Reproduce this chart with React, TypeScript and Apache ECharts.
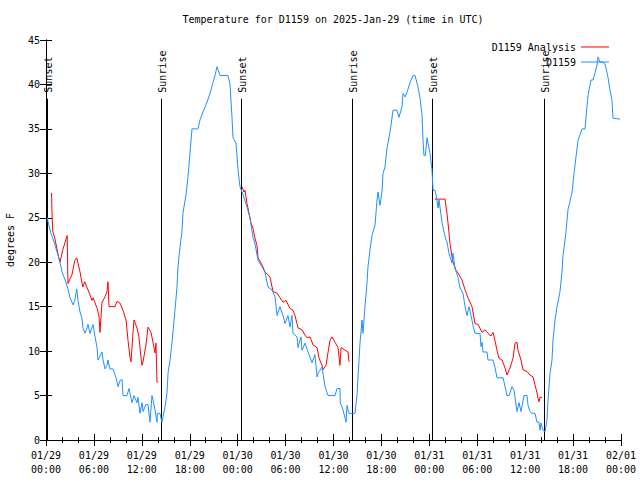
import React, { useEffect, useRef } from "react";
import * as echarts from "echarts";

// hours since 01/29 00:00 UTC, temperature in °F
const stationSeries: [number, number][] = [
  [0.15, 25], [0.35, 24.2], [0.6, 23.3], [0.8, 22.8], [1.0, 22.3], [1.2, 21.7], [1.4, 21.1], [1.6, 20.5],
  [1.75, 20], [2.04, 18.8], [2.4, 18], [2.75, 17], [3.0, 16], [3.4, 15.2], [3.6, 15.7], [3.85, 17],
  [4.0, 15.7], [4.26, 14.4], [4.5, 13.7], [4.63, 12.6], [4.88, 12], [5.13, 12.6], [5.26, 13], [5.51, 12],
  [5.89, 13], [6.14, 11.6], [6.39, 10.4], [6.51, 9], [7.01, 9.9], [7.14, 9], [7.39, 8], [7.64, 8.4],
  [7.76, 9], [8.01, 8], [8.39, 8], [8.77, 7], [9.02, 6], [9.27, 6.7], [9.52, 6.8], [9.64, 5],
  [10.14, 5], [10.39, 5.8], [10.77, 4.2], [11.02, 5], [11.39, 4.2], [11.52, 4.8], [11.77, 3], [12.02, 4.2],
  [12.15, 3.2], [12.52, 4], [12.77, 4], [13.02, 2], [13.27, 5], [13.4, 4.5], [13.65, 3.4], [13.9, 2],
  [13.95, 3], [14.27, 3], [14.52, 2], [14.65, 2.6], [14.9, 3.7], [15.15, 5.3], [15.28, 7.5], [15.53, 9],
  [15.78, 11], [16.15, 14.6], [16.4, 17.2], [16.53, 19.5], [16.78, 21.7], [17.03, 23.5], [17.15, 25.5], [17.53, 27.6],
  [17.78, 29.6], [18.03, 32.3], [18.28, 35], [19.03, 35], [19.28, 36], [19.66, 36.9], [20.16, 38], [20.54, 39],
  [20.91, 40.2], [21.16, 41], [21.41, 42], [21.79, 41], [22.79, 41], [23.04, 40], [23.29, 36.3], [23.42, 34],
  [23.79, 33.4], [23.92, 31.9], [24.04, 30.4], [24.29, 28.5], [24.67, 27.6], [25.17, 26.2], [25.54, 25], [25.92, 22.8],
  [26.17, 22.1], [26.55, 20.2], [27.05, 19.5], [27.42, 18.9], [27.8, 17.2], [28.3, 16.9], [28.68, 16.1], [28.93, 14],
  [29.3, 15], [29.68, 14], [29.93, 13.1], [30.3, 14], [30.55, 12.7], [30.8, 14], [30.93, 12], [31.43, 11.6],
  [31.56, 10.4], [31.93, 11.6], [32.06, 10.1], [32.43, 10.9], [32.81, 9.9], [33.31, 8.7], [33.68, 9.6], [33.94, 7.1],
  [34.06, 7.5], [34.56, 8.2], [34.94, 6], [35.31, 5], [36.19, 5], [36.44, 5.8], [36.81, 5.8], [36.85, 4.2],
  [37.19, 3.4], [37.57, 2], [37.69, 3.9], [37.94, 3], [38.69, 3], [38.94, 5], [39.07, 7.1], [39.32, 10.9],
  [39.57, 13.5], [39.69, 12], [39.94, 15], [40.19, 17.6], [40.32, 19.5], [40.57, 21.4], [40.82, 23], [41.2, 24.2],
  [41.45, 27], [41.57, 27.9], [41.82, 26.4], [42.07, 27.9], [42.2, 30], [42.45, 30.7], [42.7, 32.8], [42.95, 34],
  [43.2, 35.4], [43.45, 37.1], [43.95, 37.1], [44.2, 36.3], [44.58, 37.5], [44.7, 39], [44.95, 38.6], [45.2, 39.1],
  [45.58, 40.2], [45.96, 41], [46.21, 41], [46.58, 39.7], [46.83, 38.5], [47.08, 36.6], [47.21, 33.7], [47.33, 32],
  [47.5, 32], [47.71, 34], [47.83, 33.4], [48.08, 32.3], [48.33, 30.4], [48.46, 28.1], [48.71, 28.1], [48.96, 27],
  [49.09, 26.1], [49.21, 27], [49.59, 24.5], [49.84, 23.4], [50.09, 22.5], [50.21, 22.3], [50.46, 21], [50.84, 19.9],
  [50.96, 21], [51.22, 19.3], [51.59, 18.3], [51.84, 17.1], [52.22, 16.5], [52.47, 15], [52.72, 14], [52.97, 15],
  [53.22, 14], [53.47, 12.9], [53.72, 12], [54.35, 12], [54.47, 10.5], [54.6, 11], [54.72, 9.9], [55.22, 9.9],
  [55.35, 9], [55.97, 9], [56.22, 8.2], [56.47, 7], [57.23, 7], [57.48, 6], [57.73, 5], [57.98, 5],
  [58.35, 6], [58.6, 5.6], [58.98, 3.2], [59.23, 4.2], [59.48, 3.2], [59.85, 5], [60.23, 5], [60.36, 3.9],
  [60.61, 3.2], [60.86, 3], [61.23, 3], [61.48, 2], [61.73, 2], [61.86, 1.1], [61.98, 1.9], [62.23, 1.1],
  [62.48, 0.9], [62.73, 2.2], [62.86, 4.5], [63.11, 7.5], [63.36, 9], [63.48, 11.2], [63.74, 13.5], [63.99, 15],
  [64.36, 16.7], [64.61, 18.9], [64.74, 20.8], [64.99, 22.5], [65.11, 23.4], [65.36, 25.9], [65.86, 27.8], [66.12, 30],
  [66.37, 31.9], [66.62, 33.7], [67.12, 35], [67.49, 35], [67.74, 37.5], [67.87, 38.8], [68.24, 40.5], [68.5, 40.5],
  [68.75, 41.3], [69.0, 42.2], [69.12, 43.1], [69.37, 42.5], [69.75, 42.5], [70.0, 42.3], [70.37, 40.8], [70.62, 39.4],
  [70.87, 38.2], [71.0, 36.2], [71.88, 36.1],
];

const analysisNight1: [number, number][] = [
  [0.7, 27.8], [0.75, 25.5], [0.85, 23.5], [1.1, 22.7], [1.6, 20.5], [1.75, 20], [2.1, 21.4], [2.65, 23],
  [2.75, 17.6], [3.25, 18.6], [3.6, 20.2], [3.85, 20.5], [4.26, 18.9], [4.6, 17.2], [4.85, 17.8], [5.26, 16.9],
  [5.76, 15.7], [5.9, 16], [6.4, 14.8], [6.64, 13.9], [6.76, 12.1], [7.01, 15.5], [7.39, 16.1], [7.64, 16.7],
  [7.76, 17.8], [7.89, 15], [8.64, 15], [8.89, 15.6], [9.27, 15.4], [9.64, 14.6], [10.02, 13.5], [10.27, 11.2],
  [10.52, 9.3], [10.64, 8.8], [10.89, 12], [11.02, 13.5], [11.39, 12.6], [11.64, 11.6], [11.89, 9.3], [12.02, 8.4],
  [12.15, 8.8], [12.52, 10.7], [12.77, 12.7], [13.15, 12.1], [13.4, 11], [13.65, 9.8], [13.77, 10.9], [13.9, 6.5],
  [14.0, 6.5],
];
const analysisNight2: [number, number][] = [
  [24.54, 28.5], [24.79, 27.9], [24.92, 28.1], [25.17, 26.6], [25.29, 26.1], [25.67, 24.4], [25.92, 23.8], [26.17, 22.7],
  [26.42, 21.9], [26.55, 20.5], [27.05, 19.7], [27.42, 18.9], [27.8, 18.6], [28.05, 18.3], [28.43, 16.7], [28.93, 16.5],
  [29.3, 16], [29.68, 15.5], [30.05, 15.7], [30.55, 14.8], [30.93, 14.6], [31.18, 14], [31.56, 12.6], [32.06, 12.4],
  [32.43, 11.8], [32.68, 11.5], [33.06, 11.6], [33.43, 10.7], [33.94, 10.4], [34.19, 9.2], [34.56, 8.4], [34.69, 7.9],
  [35.06, 8.4], [35.31, 9.8], [35.56, 11.2], [35.81, 11.6], [36.19, 11], [36.56, 10.4], [36.81, 8.4], [36.94, 10.4],
  [37.44, 10.1], [37.82, 9.9], [37.94, 8.8],
];
const analysisNight3: [number, number][] = [
  [48.71, 27.1], [49.96, 27.1], [50.21, 25.5], [50.34, 24.4], [50.46, 23.3], [50.59, 22.1], [50.84, 20.6], [50.96, 20],
  [51.34, 19.1], [51.59, 18.8], [52.09, 18], [52.47, 16.9], [52.84, 16], [53.34, 15], [53.72, 13.1], [54.1, 13],
  [54.6, 12.1], [54.97, 12.4], [55.35, 12], [55.72, 11.7], [55.97, 12.1], [56.22, 11.2], [56.47, 10.1], [56.72, 9.2],
  [57.1, 9], [57.48, 8.1], [57.73, 7.3], [58.1, 8.1], [58.48, 9.2], [58.73, 10.9], [58.98, 11], [59.1, 10.1],
  [59.48, 9], [59.73, 7.9], [60.23, 7.7], [60.61, 7.3], [60.98, 7.1], [61.23, 6.2], [61.48, 5.3], [61.61, 4.7],
  [61.73, 4.3], [61.86, 4.8], [62.11, 4.8],
];

const sunTimes = [0.17, 14.44, 24.38, 38.36, 48.37, 62.4];
const sunLabels = ["Sunset", "Sunrise", "Sunset", "Sunrise", "Sunset", "Sunrise"];
const dateLabels = ["01/29", "01/30", "01/31", "02/01"];
const seriesNames = ["D1159 Analysis", "D1159"];
const seriesColors = ["#ff0000", "#1e90ff"];
const titleText = "Temperature for D1159 on 2025-Jan-29 (time in UTC)";
const yAxisName = "degrees F";

const FONT = "DejaVu Sans Mono";

export default function App() {
  const ref = useRef<HTMLDivElement>(null);
  useEffect(() => {
    if (!ref.current) return;
    const chart = echarts.init(ref.current, undefined, { renderer: "svg" });
    const analysis: any[] = [
      ...analysisNight1,
      [20, "-"],
      ...analysisNight2,
      [45, "-"],
      ...analysisNight3,
    ];
    const tickFmt = (v: number) => {
      const d = Math.floor(v / 24);
      const h = Math.round(v - d * 24);
      return dateLabels[d] + "\n" + String(h).padStart(2, "0") + ":00";
    };
    const xBase = {
      type: "value",
      min: 0,
      max: 72,
      interval: 6,
      splitLine: { show: false },
      axisLine: { show: true, lineStyle: { color: "#000", width: 1 } },
      axisTick: { show: true, inside: true, length: 6, lineStyle: { color: "#000" } },
      minorTick: { show: true, splitNumber: 3, length: 3, lineStyle: { color: "#000" } },
    };
    const yBase = {
      type: "value",
      min: 0,
      max: 45,
      interval: 5,
      splitLine: { show: false },
      axisLine: { show: true, lineStyle: { color: "#000", width: 1 } },
      axisTick: { show: true, inside: true, length: 6, lineStyle: { color: "#000" } },
    };
    const legendBase = {
      right: 31,
      padding: 0,
      itemWidth: 28,
      itemHeight: 1,
      icon: "rect",
      align: "right",
      itemGap: 0,
      textStyle: { fontFamily: FONT, fontSize: 10, color: "#000" },
    };
    chart.setOption({
      animation: false,
      backgroundColor: "#fff",
      title: {
        text: titleText,
        left: 333,
        textAlign: "center",
        top: 14,
        padding: 0,
        textStyle: { fontFamily: FONT, fontSize: 10, fontWeight: "normal", color: "#000" },
      },
      grid: {
        left: 46,
        right: 19,
        top: 40,
        bottom: 40,
        show: false,
        containLabel: false,
        outerBoundsMode: "none",
      },
      legend: [
        { ...legendBase, data: [seriesNames[0]], top: 42 },
        { ...legendBase, data: [seriesNames[1]], top: 57 },
      ],
      xAxis: [
        {
          ...xBase,
          position: "bottom",
          axisLabel: {
            formatter: tickFmt,
            fontFamily: FONT,
            fontSize: 10,
            color: "#000",
            lineHeight: 14,
            margin: 8,
          },
        },
        { ...xBase, position: "top", axisLabel: { show: false } },
      ],
      yAxis: [
        {
          ...yBase,
          position: "left",
          name: yAxisName,
          nameLocation: "middle",
          nameGap: 31,
          nameRotate: 90,
          nameTextStyle: { fontFamily: FONT, fontSize: 10, color: "#000" },
          axisLabel: { fontFamily: FONT, fontSize: 10, color: "#000", margin: 6 },
        },
        { ...yBase, position: "right", axisLabel: { show: false } },
      ],
      series: [
        {
          name: "sun",
          type: "custom",
          xAxisIndex: 0,
          yAxisIndex: 0,
          silent: true,
          data: sunTimes.map((t, i) => [t, i]),
          renderItem: (params: any, api: any) => {
            const t = api.value(0);
            const top = api.coord([t, 38.4]);
            const bottom = api.coord([t, 0]);
            const x = Math.round(top[0]) + 0.5;
            return {
              type: "group",
              children: [
                {
                  type: "line",
                  shape: { x1: x, y1: top[1], x2: x, y2: bottom[1] },
                  style: { stroke: "#000", lineWidth: 1 },
                },
                {
                  type: "text",
                  x: x + 1,
                  y: top[1] - 6,
                  rotation: Math.PI / 2,
                  style: {
                    text: sunLabels[params.dataIndex],
                    fontFamily: FONT,
                    fontSize: 10,
                    fill: "#000",
                    align: "left",
                    verticalAlign: "middle",
                  },
                },
              ],
            };
          },
        },
        {
          name: seriesNames[0],
          type: "line",
          data: analysis,
          showSymbol: false,
          symbol: "none",
          connectNulls: false,
          lineStyle: { color: seriesColors[0], width: 1 },
          itemStyle: { color: seriesColors[0] },
        },
        {
          name: seriesNames[1],
          type: "line",
          data: stationSeries,
          showSymbol: false,
          symbol: "none",
          lineStyle: { color: seriesColors[1], width: 1 },
          itemStyle: { color: seriesColors[1] },
        },
      ],
    });
    return () => chart.dispose();
  }, []);
  return (
    <div
      ref={ref}
      style={{ position: "fixed", left: 0, top: 0, width: 640, height: 480, background: "#fff" }}
    />
  );
}
